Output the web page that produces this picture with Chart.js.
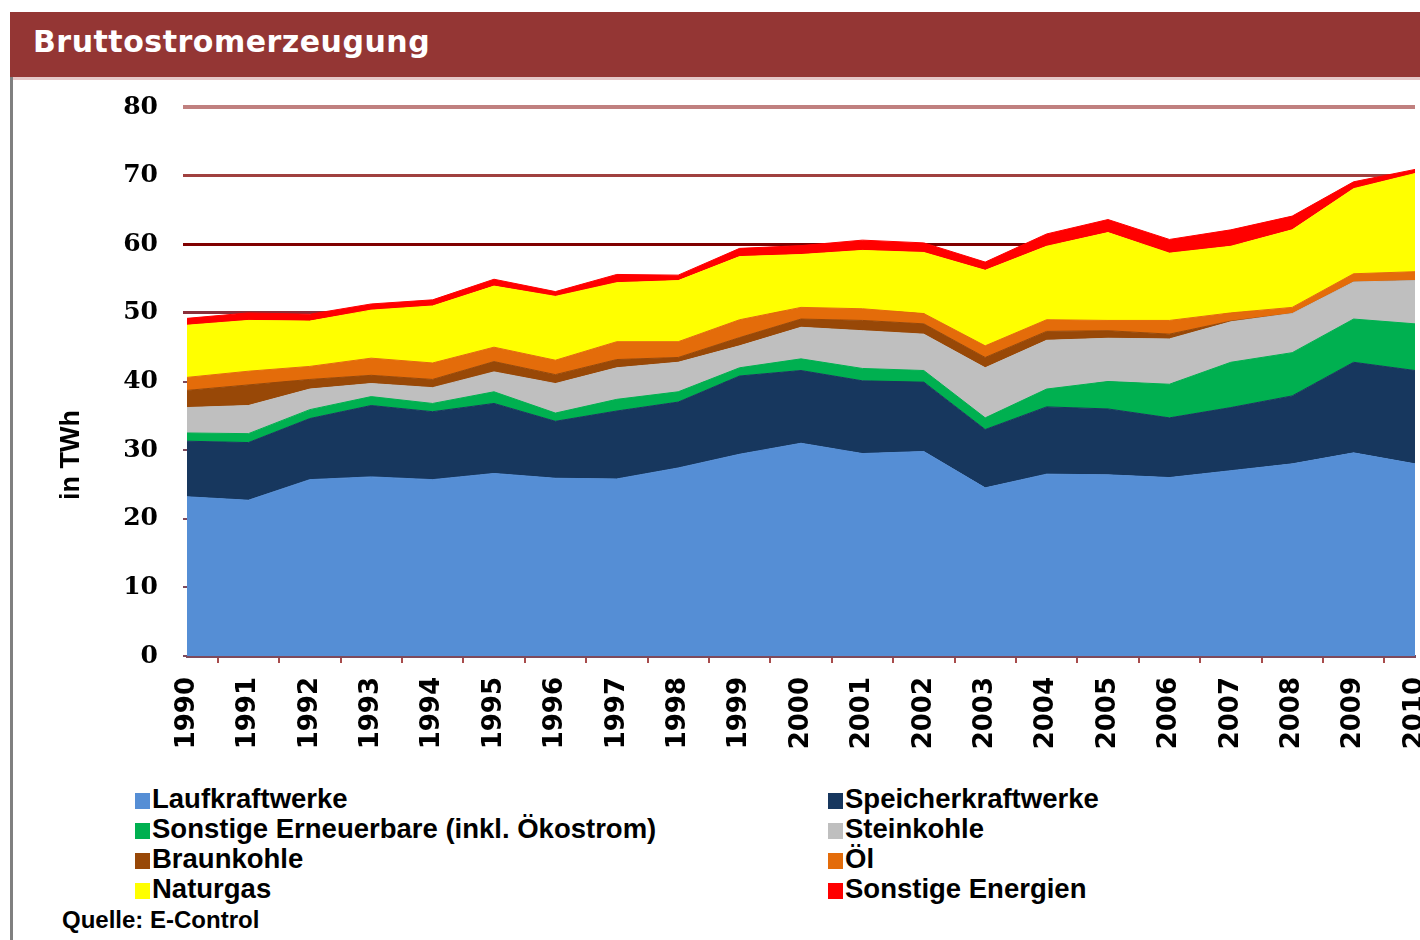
<!DOCTYPE html>
<html lang="de">
<head>
  <meta charset="UTF-8" />
  <title>Bruttostromerzeugung</title>
  <script src="https://cdn.jsdelivr.net/npm/chart.js"></script>
  <style>
    html, body { margin: 0; padding: 0; background: #fff; overflow: hidden; }
    body { width: 1420px; height: 940px; position: relative; font-family: "Liberation Sans", Arial, sans-serif; }
    #titlebar { position: absolute; left: 10px; top: 12px; width: 1410px; height: 65px; background: #943634; }
    #titlebar span { position: absolute; left: 23px; top: 15px; color: #fff; font: bold 30px "DejaVu Sans"; letter-spacing: 0.5px; line-height: 30px; }
    #underline { position: absolute; left: 10px; top: 77px; width: 1410px; height: 3px; background: #e6c8c8; }
    #leftline { position: absolute; left: 10px; top: 77px; width: 3px; height: 863px; background: #808080; }
    #chartbox { position: absolute; left: 0; top: 80px; width: 1440px; height: 700px; }
    #legend { position: absolute; left: 135px; top: 783px; display: grid; grid-template-columns: 693px 560px; }
    #legend .item { height: 30px; line-height: 30px; font: bold 27.5px "Liberation Sans"; color: #000; white-space: nowrap; }
    #legend .box { display: inline-block; width: 15px; height: 16px; margin-right: 2px; vertical-align: -1px; }
    #source { position: absolute; left: 62px; top: 907px; font: bold 24px "Liberation Sans"; line-height: 26px; color: #000; }
  </style>
</head>

<body>
  <div id="titlebar"><span>Bruttostromerzeugung</span></div>
  <div id="underline"></div>
  <div id="leftline"></div>
  <div id="chartbox"><canvas id="chart"></canvas></div>
  <div id="legend"></div>
  <div id="source">Quelle: E-Control</div>
  <script>
    // Jahre
    const years = ['1990', '1991', '1992', '1993', '1994', '1995', '1996', '1997', '1998', '1999', '2000',
      '2001', '2002', '2003', '2004', '2005', '2006', '2007', '2008', '2009', '2010'];

    // Werte in TWh
    const laufkraftwerke = [23.2, 22.7, 25.7, 26.1, 25.7, 26.6, 25.9, 25.8, 27.4, 29.4, 31.0, 29.5, 29.8, 24.5, 26.5, 26.4, 26.0, 27.0, 28.0, 29.6, 28.0];
    const speicherkraftwerke = [8.1, 8.4, 8.9, 10.4, 9.9, 10.2, 8.3, 9.9, 9.6, 11.4, 10.6, 10.6, 10.1, 8.5, 9.8, 9.6, 8.7, 9.2, 9.9, 13.2, 13.6];
    const sonstigeErneuerbare = [1.2, 1.3, 1.3, 1.3, 1.2, 1.7, 1.2, 1.7, 1.5, 1.2, 1.7, 1.8, 1.7, 1.7, 2.6, 4.0, 4.9, 6.6, 6.3, 6.3, 6.8];
    const steinkohle = [3.7, 4.1, 3.0, 1.9, 2.3, 2.9, 4.3, 4.6, 4.3, 3.2, 4.6, 5.5, 5.3, 7.3, 7.1, 6.3, 6.6, 5.9, 5.7, 5.4, 6.3];
    const braunkohle = [2.5, 3.0, 1.4, 1.2, 1.2, 1.5, 1.3, 1.2, 0.7, 1.2, 1.2, 1.5, 1.5, 1.5, 1.3, 1.1, 0.7, 0.1, 0.0, 0.0, 0.0];
    const oel = [1.9, 2.0, 1.9, 2.5, 2.4, 2.1, 2.1, 2.6, 2.3, 2.6, 1.7, 1.7, 1.5, 1.7, 1.7, 1.5, 2.0, 1.2, 0.9, 1.2, 1.3];
    const naturgas = [7.6, 7.4, 6.6, 7.0, 8.3, 8.9, 9.3, 8.6, 8.9, 9.2, 7.7, 8.5, 8.9, 11.0, 10.7, 12.8, 9.8, 9.7, 11.3, 12.4, 14.3];
    const sonstigeEnergien = [1.0, 1.1, 1.0, 0.9, 0.9, 1.0, 0.7, 1.2, 0.8, 1.2, 1.3, 1.5, 1.4, 1.2, 1.8, 1.9, 2.0, 2.4, 2.0, 1.0, 0.6];

    const seriesLabels = ['Laufkraftwerke', 'Speicherkraftwerke', 'Sonstige Erneuerbare (inkl. Ökostrom)', 'Steinkohle',
      'Braunkohle', 'Öl', 'Naturgas', 'Sonstige Energien'];
    const seriesData = [laufkraftwerke, speicherkraftwerke, sonstigeErneuerbare, steinkohle, braunkohle, oel, naturgas, sonstigeEnergien];
    const seriesColors = ['#558ed5', '#17375e', '#00b050', '#bfbfbf', '#984807', '#e46c0a', '#ffff00', '#ff0000'];

    const yTicks = [0, 10, 20, 30, 40, 50, 60, 70, 80];
    const yTitle = 'in TWh';

    // Gitterlinien: oben heller, unten dunkler
    function gridColor(v) {
      if (v === 80) return '#c0807f';
      if (v === 70) return '#a0403f';
      if (v === 60) return '#800000';
      if (v === 50) return '#8b2f3a';
      return '#7e4a5c';
    }
    function gridWidth(v) {
      if (v === 80) return 4;
      if (v >= 50) return 3;
      return 2;
    }

    const datasets = seriesLabels.map((label, i) => ({
      label: label,
      data: seriesData[i],
      backgroundColor: seriesColors[i],
      borderColor: seriesColors[i],
      borderWidth: 1,
      pointRadius: 0,
      tension: 0,
      fill: i === 0 ? 'origin' : '-1'
    }));

    // Achsentitel links, etwas unterhalb der Mitte
    const yTitlePlugin = {
      id: 'yTitle',
      afterDraw(chart) {
        const { ctx, chartArea } = chart;
        ctx.save();
        ctx.translate(chartArea.left - 115, chartArea.bottom - 201);
        ctx.rotate(-Math.PI / 2);
        ctx.font = 'bold 27px "Liberation Sans"';
        ctx.fillStyle = '#000';
        ctx.textAlign = 'center';
        ctx.textBaseline = 'middle';
        ctx.fillText(yTitle, 0, 0);
        ctx.restore();
      }
    };

    const chart = new Chart(document.getElementById('chart'), {
      type: 'line',
      data: { labels: years, datasets: datasets },
      options: {
        responsive: true,
        maintainAspectRatio: false,
        animation: false,
        layout: { padding: { top: 27, right: 25, left: 0, bottom: 0 } },
        plugins: {
          legend: { display: false },
          tooltip: { enabled: false }
        },
        scales: {
          x: {
            offset: false,
            z: 1,
            grid: {
              offset: true,
              drawOnChartArea: false,
              tickLength: 7,
              color: '#a84c4c',
              lineWidth: 2
            },
            border: { display: true, color: '#7e4a5c', width: 3 },
            ticks: {
              autoSkip: false,
              minRotation: 90,
              maxRotation: 90,
              padding: 14,
              color: '#000',
              font: { family: 'DejaVu Sans', weight: 'bold', size: 26 }
            },
            afterFit(scale) {
              scale.height = 124;
              scale.paddingLeft = 0;
              scale.paddingRight = 0;
              scale.paddingTop = 0;
            }
          },
          y: {
            stacked: true,
            min: 0,
            max: 80,
            afterBuildTicks(scale) { scale.ticks = yTicks.map(v => ({ value: v })); },
            grid: {
              color: ctx => gridColor(ctx.tick.value),
              lineWidth: ctx => gridWidth(ctx.tick.value),
              tickLength: 4
            },
            border: { display: false },
            ticks: {
              padding: 25,
              color: '#000',
              font: { family: 'DejaVu Serif', weight: 'bold', size: 25 }
            },
            afterFit(scale) {
              scale.width = 187;
              scale.paddingTop = 0;
              scale.paddingBottom = 0;
            }
          }
        }
      },
      plugins: [yTitlePlugin]
    });

    // Legende in zwei Spalten
    const legendDiv = document.getElementById('legend');
    chart.data.datasets.forEach(ds => {
      const item = document.createElement('div');
      item.className = 'item';
      const box = document.createElement('span');
      box.className = 'box';
      box.style.background = ds.backgroundColor;
      item.appendChild(box);
      item.appendChild(document.createTextNode(ds.label));
      legendDiv.appendChild(item);
    });
  </script>
</body>

</html>
